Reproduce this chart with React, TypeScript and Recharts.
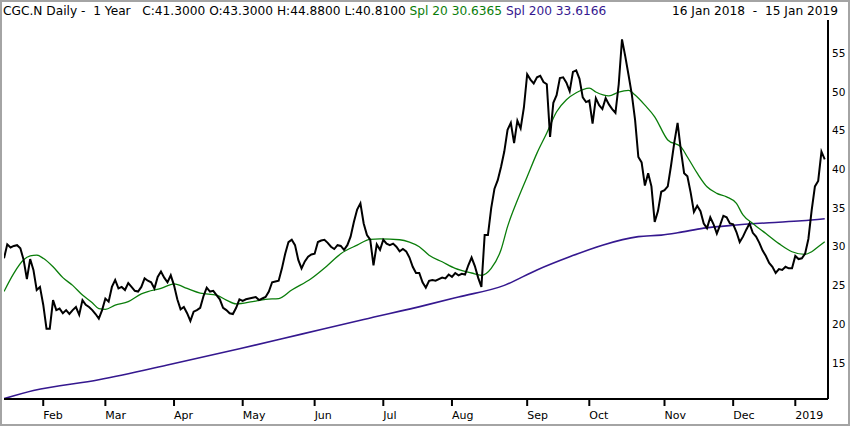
import { LineChart, Line, XAxis, YAxis } from 'recharts'

// trading day index 0 = 16 Jan 2018, 251 = 15 Jan 2019
const closes = [
  28.5, 30.3, 29.9, 30.1, 30.2, 29.8, 28.3, 25.8, 28.4, 27.0,
  24.4, 24.8, 22.5, 19.4, 19.4, 23.1, 21.8, 22.0, 21.4, 21.8,
  21.3, 21.8, 22.2, 21.2, 23.1, 22.5, 22.2, 21.8, 21.3, 20.7,
  21.8, 23.3, 22.9, 24.8, 25.7, 24.6, 24.8, 24.4, 25.3, 24.8,
  24.3, 24.2, 24.8, 25.9, 25.6, 25.4, 24.6, 26.1, 26.8, 26.0,
  25.4, 26.3, 25.0, 23.2, 21.9, 22.2, 21.4, 20.4, 21.6, 21.8,
  22.1, 23.6, 24.7, 24.2, 24.3, 23.75, 23.2, 22.1, 21.8, 21.4,
  21.3, 22.1, 23.2, 23.0, 23.2, 23.3, 23.4, 23.5, 23.1, 23.3,
  23.5, 24.2, 25.4, 25.5, 25.6, 27.2, 29.1, 30.6, 30.9, 30.2,
  28.3, 27.2, 28.1, 28.7, 29.0, 29.1, 30.6, 30.8, 30.9, 30.5,
  30.0, 29.7, 30.2, 30.1, 29.6, 30.2, 31.3, 33.2, 34.8, 35.6,
  33.0, 31.5, 30.9, 27.6, 30.3, 29.6, 30.9, 30.4, 30.2, 30.4,
  30.0, 29.4, 29.7, 29.4, 28.6, 27.4, 26.6, 26.6, 25.4, 24.7,
  25.6, 25.7, 25.6, 25.8, 26.0, 25.9, 26.4, 26.1, 26.6, 26.3,
  26.5, 26.4, 27.6, 28.6, 27.5, 26.0, 24.8, 31.5, 31.5, 35.0,
  37.5, 38.6, 40.3, 42.3, 45.1, 46.0, 43.4, 46.3, 45.3, 48.0,
  52.3, 51.6, 51.1, 51.9, 52.1, 51.3, 51.0, 44.2, 48.6, 49.6,
  51.8, 51.9, 51.2, 50.1, 52.6, 52.8, 51.7, 49.3, 48.7, 48.9,
  45.9, 49.2, 48.3, 47.8, 49.2, 48.4, 47.8, 47.3, 51.0, 56.8,
  54.6, 52.2, 49.7, 46.4, 41.6, 40.9, 37.9, 39.5, 37.8, 33.2,
  34.6, 37.1, 37.3, 37.8, 40.5, 43.5, 46.0, 42.5, 39.5, 39.1,
  37.0, 34.5, 35.3, 34.6, 33.0, 32.4, 33.8, 32.9, 31.7, 32.8,
  34.0, 33.8, 33.0, 32.9, 31.9, 30.6, 31.3, 32.2, 33.0, 31.8,
  31.3, 30.5, 29.5, 28.8, 27.9, 27.4, 26.6, 27.1, 27.0, 27.4,
  27.2, 27.2, 28.8, 28.4, 28.5, 29.1, 31.0, 34.7, 37.8, 38.5,
  42.3, 41.3,
]

const spl20Days = [
  0, 3, 6, 8, 10, 12, 15, 18, 21, 24, 27, 29, 31, 34, 38, 42, 44, 48, 52, 56,
  60, 65, 68, 71, 76, 80, 84, 88, 94, 99, 103, 108, 112, 115, 121, 124, 127, 130, 134, 138,
  143, 146, 149, 152, 154, 157, 160, 163, 166, 169, 172, 175, 179, 181, 185, 188, 191, 193, 196, 199,
  203, 207, 209, 212, 215, 218, 221, 224, 226, 229, 233, 237, 241, 245, 247, 249, 251,
]
const spl20Vals = [
  24.2, 26.55, 28.3, 28.8, 28.9, 28.5, 27.4, 26.0, 25.0, 23.75, 22.75, 22.0, 21.9, 22.45, 22.9, 23.9, 24.2, 24.6, 25.2, 24.6,
  24.0, 23.75, 23.1, 22.6, 22.9, 23.2, 23.3, 24.4, 25.9, 27.6, 29.1, 30.2, 30.95, 31.0, 30.9, 30.6, 30.0, 28.9, 28.05, 27.2,
  26.6, 26.3, 27.2, 29.6, 32.6, 36.0, 39.05, 42.1, 44.7, 47.45, 49.0, 49.9, 50.5, 50.0, 49.5, 50.0, 50.2, 49.6, 48.3, 46.8,
  43.8, 42.9, 41.6, 39.5, 37.75, 36.9, 36.45, 35.6, 34.1, 33.0, 31.7, 30.4, 29.35, 29.0, 29.35, 30.0, 30.64,
]

const spl200Days = [0, 9, 29, 51, 72, 91, 110, 129, 139, 153, 163, 173, 183, 194, 201, 206, 214, 224, 234, 244, 251]
const spl200Vals = [
  10.35, 11.4, 12.8, 14.8, 16.8, 18.7, 20.6, 22.45, 23.5, 25.0, 27.0,
  28.7, 30.2, 31.3, 31.5, 31.8, 32.4, 32.8, 33.1, 33.35, 33.62,
]

const monthTickDays = [12, 31, 52, 73, 95, 116, 137, 160, 179, 202, 223, 242]
const monthTickLabels = ['Feb', 'Mar', 'Apr', 'May', 'Jun', 'Jul', 'Aug', 'Sep', 'Oct', 'Nov', 'Dec', '2019']
const yTicks = [15, 20, 25, 30, 35, 40, 45, 50, 55]

const closeData = closes.map((c, i) => ({ day: i, value: c }))
const spl20Data = spl20Days.map((d, i) => ({ day: d, value: spl20Vals[i] }))
const spl200Data = spl200Days.map((d, i) => ({ day: d, value: spl200Vals[i] }))

const FONT = '"DejaVu Sans", Verdana, sans-serif'
const GREEN = '#0a7d0a'
const PURPLE = '#35188f'

function MonthTick({ x, payload }: any) {
  const idx = monthTickDays.indexOf(payload.value)
  return (
    <g>
      <line x1={x} y1={399} x2={x} y2={406} stroke="#000" strokeWidth={2} />
      <text x={x} y={419} textAnchor="start" fontSize={11} fontFamily={FONT} fill="#000">
        {monthTickLabels[idx]}
      </text>
    </g>
  )
}

function PriceTick({ y, payload }: any) {
  return (
    <text x={832} y={y} dy="0.36em" textAnchor="start" fontSize={10.5} fontFamily={FONT} fill="#000">
      {payload.value}
    </text>
  )
}

export default function App() {
  return (
    <div style={{ position: 'relative', width: 850, height: 426, background: '#fff', overflow: 'hidden' }}>
      <style>{'body{margin:0}'}</style>
      <LineChart width={850} height={426} margin={{ top: 20, right: 0, left: 4, bottom: 0 }}>
        <XAxis
          dataKey="day"
          type="number"
          domain={[0, 252]}
          ticks={monthTickDays}
          tick={<MonthTick />}
          tickLine={false}
          axisLine={{ stroke: '#000', strokeWidth: 2 }}
          height={27}
          interval={0}
          allowDataOverflow
        />
        <YAxis
          orientation="right"
          type="number"
          domain={[10.31, 59.31]}
          ticks={yTicks}
          tick={<PriceTick />}
          tickLine={false}
          axisLine={{ stroke: '#000', strokeWidth: 2 }}
          width={22}
          allowDataOverflow
        />
        <Line data={spl200Data} dataKey="value" type="monotone" stroke={PURPLE} strokeWidth={1.6} dot={false} isAnimationActive={false} />
        <Line data={spl20Data} dataKey="value" type="monotone" stroke={GREEN} strokeWidth={1.3} dot={false} isAnimationActive={false} />
        <Line data={closeData} dataKey="value" type="linear" stroke="#000" strokeWidth={2} dot={false} isAnimationActive={false} />
      </LineChart>
      <div
        style={{
          position: 'absolute', left: 3, top: 4, fontFamily: FONT, fontSize: 12.2,
          lineHeight: '14px', whiteSpace: 'pre', color: '#000',
        }}
      >
        {'CGC.N Daily -  1 Year   C:41.3000 O:43.3000 H:44.8800 L:40.8100 '}
        <span style={{ color: GREEN }}>Spl 20 30.6365</span>{' '}
        <span style={{ color: PURPLE }}>Spl 200 33.6166</span>
      </div>
      <div
        style={{
          position: 'absolute', right: 12, top: 4, fontFamily: FONT, fontSize: 12.2,
          lineHeight: '14px', whiteSpace: 'pre', color: '#000',
        }}
      >
        {'16 Jan 2018  -  15 Jan 2019'}
      </div>
      <div
        style={{
          position: 'absolute', left: 0, top: 0, width: 850, height: 426,
          border: '2px solid #a4a4a4', boxSizing: 'border-box', pointerEvents: 'none',
        }}
      />
    </div>
  )
}
